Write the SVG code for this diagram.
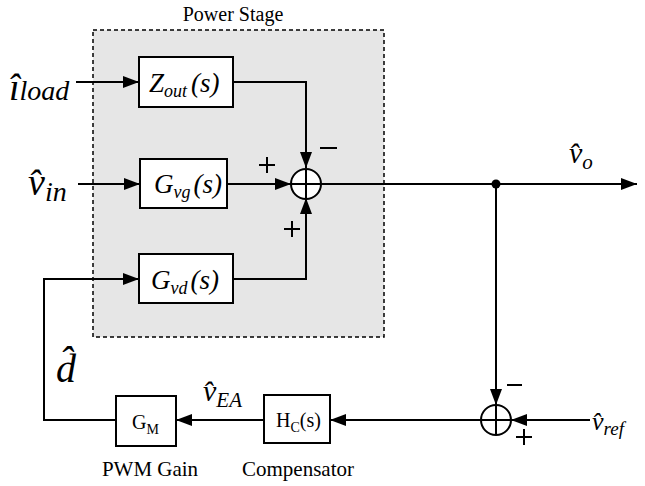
<svg xmlns="http://www.w3.org/2000/svg" width="645" height="486" viewBox="0 0 645 486">
<defs>
<marker id="ah" viewBox="0 0 16 12" refX="16" refY="6" markerWidth="16" markerHeight="12" markerUnits="userSpaceOnUse" orient="auto">
<path d="M0,0 L16,6 L0,12 Z" fill="#000"/>
</marker>
</defs>
<style>
.ln{stroke:#000;stroke-width:2;fill:none}
.bx{stroke:#000;stroke-width:2;fill:#fff}
.t{font-family:"Liberation Serif",serif;fill:#000}
.i{font-family:"Liberation Serif",serif;font-style:italic;fill:#000}
.sg{stroke:#000;stroke-width:2}
</style>
<rect width="645" height="486" fill="#fff"/>
<g id="power-stage">
<rect x="93" y="30" width="291" height="307" fill="#e6e6e6" stroke="#000" stroke-width="1.5" stroke-dasharray="4,3"/>
<text class="t" x="233" y="21" font-size="20" text-anchor="middle">Power Stage</text>
</g>
<g id="connectors">
<path class="ln" d="M76,82 H139" marker-end="url(#ah)"/>
<path class="ln" d="M78,184 H140" marker-end="url(#ah)"/>
<path class="ln" d="M233,82 H306 V168" marker-end="url(#ah)"/>
<path class="ln" d="M227,184 H291" marker-end="url(#ah)"/>
<path class="ln" d="M233,279 H306 V198" marker-end="url(#ah)"/>
<path class="ln" d="M321,184 H637" marker-end="url(#ah)"/>
<path class="ln" d="M496,184 V405" marker-end="url(#ah)"/>
<path class="ln" d="M590,420 H511" marker-end="url(#ah)"/>
<path class="ln" d="M481,420 H330" marker-end="url(#ah)"/>
<path class="ln" d="M264,420 H176" marker-end="url(#ah)"/>
<path class="ln" d="M116,420 H44 V279 H139" marker-end="url(#ah)"/>
<circle cx="496" cy="184" r="4.5" fill="#000"/>
</g>
<g id="Zout">
<rect class="bx" x="139" y="57" width="94" height="50"/>
<text class="i" x="149" y="92" font-size="27">Z<tspan font-size="18" dy="5">out</tspan><tspan dy="-5" dx="4">(s)</tspan></text>
</g>
<g id="Gvg">
<rect class="bx" x="140" y="159" width="87" height="49"/>
<text class="i" x="154" y="193" font-size="27">G<tspan font-size="18" dy="5">vg</tspan><tspan dy="-5" dx="3">(s)</tspan></text>
</g>
<g id="Gvd">
<rect class="bx" x="139" y="254" width="94" height="49"/>
<text class="i" x="151" y="289" font-size="27">G<tspan font-size="18" dy="5">vd</tspan><tspan dy="-5" dx="3">(s)</tspan></text>
</g>
<g id="sum1">
<circle cx="306" cy="184" r="15" fill="#fff" stroke="#000" stroke-width="2"/>
<path class="sg" d="M306,170 V198 M292,184 H320"/>
<path class="sg" d="M320,148 H337"/>
<path class="sg" d="M259,165 H275 M267,157 V173"/>
<path class="sg" d="M284,229 H300 M292,221 V237"/>
</g>
<g id="sum2">
<circle cx="496" cy="420" r="15" fill="#fff" stroke="#000" stroke-width="2"/>
<path class="sg" d="M496,406 V434 M482,420 H510"/>
<path class="sg" d="M507,385 H522"/>
<path class="sg" d="M516,437 H532 M524,429 V445"/>
</g>
<g id="Hc">
<rect class="bx" x="264" y="395" width="66" height="48"/>
<text class="t" x="276" y="427" font-size="20">H<tspan font-size="14" dy="5">C</tspan><tspan dy="-5">(s)</tspan></text>
<text class="t" x="298" y="476" font-size="21" text-anchor="middle">Compensator</text>
</g>
<g id="GM">
<rect class="bx" x="116" y="396" width="60" height="50"/>
<text class="t" x="132" y="429" font-size="20">G<tspan font-size="14" dy="5">M</tspan></text>
<text class="t" x="150" y="476" font-size="21" text-anchor="middle">PWM Gain</text>
</g>
<g id="labels">
<text class="i" x="9" y="100" font-size="38">î<tspan font-size="28">load</tspan></text>
<text class="i" x="28" y="195" font-size="38">v̂<tspan font-size="28" dy="6">in</tspan></text>
<text class="i" x="56" y="382" font-size="40">d̂</text>
<text class="i" x="203" y="401" font-size="30">v̂<tspan font-size="21" dy="6">EA</tspan></text>
<text class="i" x="569" y="163" font-size="30">v̂<tspan font-size="21" dy="6">o</tspan></text>
<text class="i" x="592" y="430" font-size="26">v̂<tspan font-size="19" dy="5">ref</tspan></text>
</g>
</svg>
